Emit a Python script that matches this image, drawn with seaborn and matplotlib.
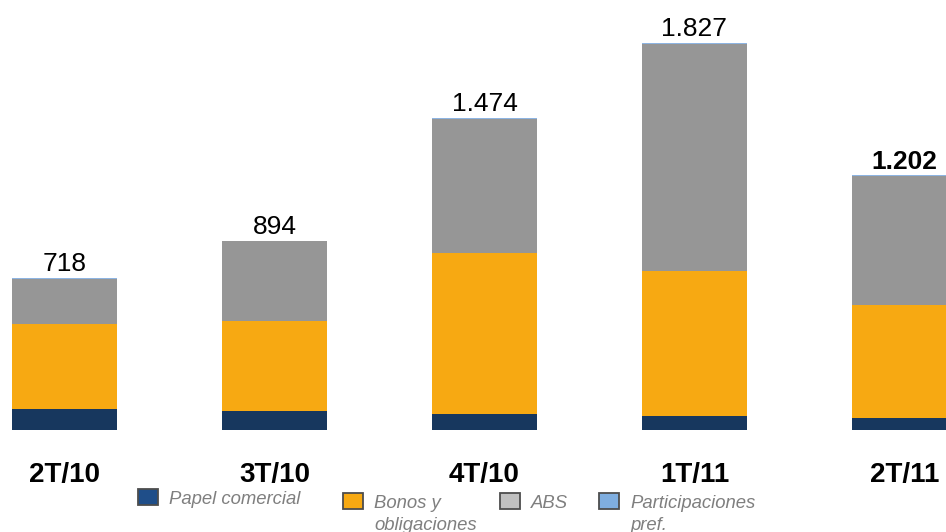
import matplotlib
matplotlib.use("Agg")
import numpy as np
import pandas as pd
import matplotlib.pyplot as plt
import seaborn as sns
from matplotlib.patches import Rectangle

# Data
quarters = ["2T/10", "3T/10", "4T/10", "1T/11", "2T/11"]
papel = [100, 92, 76, 66, 56]
bonos = [400, 423, 760, 684, 536]
abs_ = [214, 376, 633, 1074, 608]
pref = [4, 3, 5, 3, 2]
totals = ["718", "894", "1.474", "1.827", "1.202"]
series_names = ["Papel comercial", "Bonos y\nobligaciones", "ABS", "Participaciones\npref."]

bar_colors = ["#17375E", "#F7A912", "#969696", "#8DB4E2"]
legend_colors = ["#1F4E89", "#F7A912", "#C0C0C0", "#7FAEE0"]

sns.set_theme(style="white")
plt.rcParams["font.family"] = ["Liberation Sans", "DejaVu Sans"]

df = pd.DataFrame({"quarter": quarters, "papel": papel, "bonos": bonos,
                   "abs": abs_, "pref": pref})
# cumulative levels, drawn from tallest to shortest to fake stacking
df["c1"] = df["papel"]
df["c2"] = df["c1"] + df["bonos"]
df["c3"] = df["c2"] + df["abs"]
df["c4"] = df["c3"] + df["pref"]

W, H = 946, 532
fig = plt.figure(figsize=(W / 100, H / 100), dpi=100)
ax = fig.add_axes([0, 102 / H, 1, 430 / H])

for col, color in zip(["c4", "c3", "c2", "c1"], bar_colors[::-1]):
    sns.barplot(data=df, x="quarter", y=col, color=color, width=0.5,
                saturation=1, ax=ax, linewidth=0)

ax.set_xlim(-0.307, 4.198)
ax.set_ylim(0, 2030)
ax.set_xlabel("")
ax.set_ylabel("")
ax.set_yticks([])
for s in ax.spines.values():
    s.set_visible(False)
ax.set_xticks(range(len(quarters)))
ax.set_xticklabels(quarters, fontsize=20, fontweight="bold", color="black")
ax.tick_params(axis="x", length=0, pad=23)

for i, (t, lbl) in enumerate(zip(df["c4"], totals)):
    ax.text(i, t + 8, lbl, ha="center", va="bottom", fontsize=19,
            fontweight="bold" if i == len(quarters) - 1 else "normal",
            color="black", clip_on=False)

# legend: patch + italic grey text (one text per line), placed by pixel
legend_x = [138, 343, 500, 599]
legend_top = [489, 493, 493, 493]
for name, color, lx, ly in zip(series_names, legend_colors, legend_x, legend_top):
    fig.patches.append(Rectangle((lx / W, 1 - (ly + 16) / H), 20 / W, 16 / H,
                                 transform=fig.transFigure, facecolor=color,
                                 edgecolor="#4D4D4D", linewidth=1.3))
    for k, line in enumerate(name.split("\n")):
        fig.text((lx + 31) / W, 1 - (ly + 15 + 22 * k) / H, line, ha="left",
                 va="baseline", fontsize=13.3, style="italic", color="#7F7F7F")

fig.savefig("out.png", dpi=100)
